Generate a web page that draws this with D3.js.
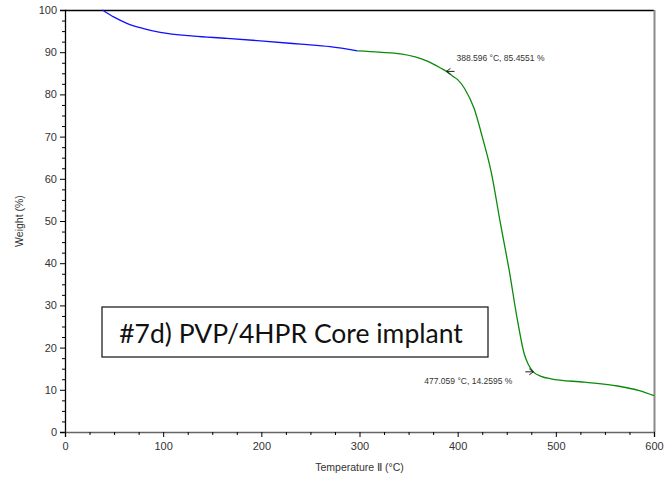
<!DOCTYPE html>
<html>
<head>
<meta charset="utf-8">
<script src="https://cdn.jsdelivr.net/npm/d3@7/dist/d3.min.js"></script>
<style>
  html, body { margin: 0; padding: 0; background: #fff; }
  svg { display: block; }
</style>
</head>
<body>
<svg id="chart" width="665" height="480"></svg>
<script>
// TGA trace: heating segment 1 (blue) and segment 2 (green)
const tempBlue   = [38, 50, 63, 80, 97, 131, 165, 199, 240, 270, 298];
const weightBlue = [100, 98.3, 96.85, 95.6, 94.7, 93.8, 93.3, 92.7, 91.9, 91.3, 90.3];

const tempGreen   = [298, 320, 342, 369, 383, 388.596, 395, 400, 407, 416.7, 425, 433.7, 443.9, 452.4, 460.9, 467.7, 472, 477.059, 485, 495, 529, 563, 585, 600];
const weightGreen = [90.3, 90.0, 89.6, 87.9, 86.2, 85.4551, 84.3, 83.5, 81.4, 76.7, 70, 62.1, 49, 38.4, 26.5, 18.6, 16, 14.2595, 13.2, 12.6, 11.8, 10.9, 9.8, 8.6];

// Marked points on the curve
const markTemps   = [388.596, 477.059];
const markWeights = [85.4551, 14.2595];

const xTicks = [0, 100, 200, 300, 400, 500, 600];
const yTicks = [0, 10, 20, 30, 40, 50, 60, 70, 80, 90, 100];

const title = "#7d) PVP/4HPR Core implant";

const svg = d3.select("#chart");
const plotL = 65, plotR = 654, plotT = 10, plotB = 432;

const x = d3.scaleLinear().domain([0, 600]).range([plotL, plotR]);
const y = d3.scaleLinear().domain([0, 100]).range([plotB, plotT]);

const tickFont = "'Liberation Sans', Arial, sans-serif";
const textColor = "#333";

// minor ticks
const xMinor = d3.range(0, 601, 25).filter(v => v % 100 !== 0);
const yMinor = d3.range(0, 100.1, 2.5).filter(v => v % 10 !== 0);

// frame: top and right edges
svg.append("line").attr("x1", plotL).attr("x2", plotR).attr("y1", plotT + 0.5).attr("y2", plotT + 0.5)
  .attr("stroke", "#000").attr("stroke-width", 1.3);
svg.append("line").attr("x1", plotR + 0.5).attr("x2", plotR + 0.5).attr("y1", plotT).attr("y2", plotB)
  .attr("stroke", "#8a8a8a").attr("stroke-width", 2);

// y axis
const yAxis = svg.append("g").attr("transform", `translate(${plotL},0)`)
  .call(d3.axisLeft(y).tickValues(yTicks).tickSize(5).tickPadding(3).tickFormat(d3.format("d")));
yAxis.select(".domain").attr("stroke", "#000").attr("stroke-width", 1.3);
yAxis.selectAll(".tick line").attr("stroke", "#000");
yAxis.selectAll(".tick text").attr("font-family", tickFont).attr("font-size", 11).attr("fill", textColor);
svg.append("g").attr("transform", `translate(${plotL},0)`)
  .call(d3.axisLeft(y).tickValues(yMinor).tickSize(3).tickFormat(""))
  .call(g => g.select(".domain").remove())
  .selectAll(".tick line").attr("stroke", "#000");

// x axis
const xAxis = svg.append("g").attr("transform", `translate(0,${plotB})`)
  .call(d3.axisBottom(x).tickValues(xTicks).tickSize(5).tickPadding(5).tickFormat(d3.format("d")));
xAxis.select(".domain").attr("stroke", "#666").attr("stroke-width", 1.5);
xAxis.selectAll(".tick line").attr("stroke", "#000");
xAxis.selectAll(".tick text").attr("font-family", tickFont).attr("font-size", 11).attr("fill", textColor);
svg.append("g").attr("transform", `translate(0,${plotB})`)
  .call(d3.axisBottom(x).tickValues(xMinor).tickSize(3).tickFormat(""))
  .call(g => g.select(".domain").remove())
  .selectAll(".tick line").attr("stroke", "#000");

// axis titles
svg.append("text").attr("x", (plotL + plotR) / 2).attr("y", 471)
  .attr("text-anchor", "middle").attr("font-family", tickFont).attr("font-size", 10.5).attr("fill", textColor)
  .text("Temperature \u2161  (°C)");
svg.append("text").attr("transform", `translate(23,${(plotT + plotB) / 2}) rotate(-90)`)
  .attr("text-anchor", "middle").attr("font-family", tickFont).attr("font-size", 10.5).attr("fill", textColor)
  .text("Weight  (%)");

// curves
const line = d3.line().x(d => x(d[0])).y(d => y(d[1])).curve(d3.curveMonotoneX);
svg.append("path").datum(d3.zip(tempBlue, weightBlue)).attr("d", line)
  .attr("fill", "none").attr("stroke", "#1010ff").attr("stroke-width", 1.3);
svg.append("path").datum(d3.zip(tempGreen, weightGreen)).attr("d", line)
  .attr("fill", "none").attr("stroke", "#0a8a0a").attr("stroke-width", 1.3);

// markers: small arrows pointing at the marked points
const dirs = [1, -1]; // arrow body extends to the right (first) or left (second)
markTemps.forEach((t, i) => {
  const px = x(t), py = y(markWeights[i]);
  const d = dirs[i];
  svg.append("path")
    .attr("d", `M${px + d * 8},${py} L${px},${py} M${px + d * 4},${py - 3} L${px},${py} L${px + d * 4},${py + 3}`)
    .attr("fill", "none").attr("stroke", "#222").attr("stroke-width", 1);
});

// marker labels
svg.append("text").attr("x", x(markTemps[0]) + 10).attr("y", y(markWeights[0]) - 10)
  .attr("font-family", tickFont).attr("font-size", 8.5).attr("fill", textColor)
  .text(`${markTemps[0]} °C, ${markWeights[0]} %`);
svg.append("text").attr("x", x(markTemps[1]) - 21).attr("y", y(markWeights[1]) + 12)
  .attr("text-anchor", "end")
  .attr("font-family", tickFont).attr("font-size", 8.5).attr("fill", textColor)
  .text(`${markTemps[1]} °C, ${markWeights[1]} %`);

// sample title box
svg.append("rect").attr("x", 102).attr("y", 307).attr("width", 386).attr("height", 50)
  .attr("fill", "#fff").attr("stroke", "#222").attr("stroke-width", 1.3);
svg.append("text").attr("x", 291).attr("y", 343).attr("text-anchor", "middle")
  .attr("font-family", "Lato, 'Open Sans', sans-serif").attr("font-size", 26.5).attr("fill", "#111")
  .text(title);
</script>
</body>
</html>
